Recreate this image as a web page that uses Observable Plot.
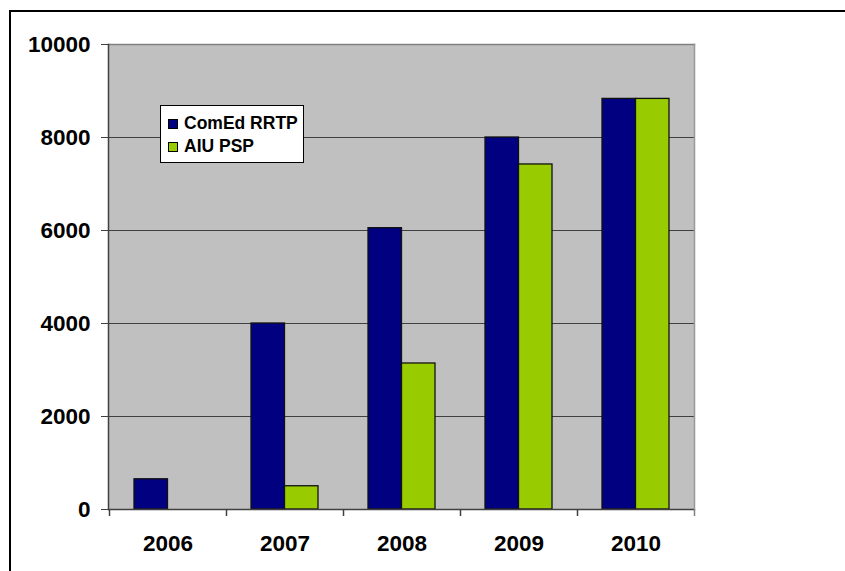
<!DOCTYPE html>
<html>
<head>
<meta charset="utf-8">
<script src="https://cdn.jsdelivr.net/npm/d3@7"></script>
<script src="https://cdn.jsdelivr.net/npm/@observablehq/plot@0.6"></script>
<style>
  html, body { margin: 0; padding: 0; background: #fff; overflow: hidden; }
  #wrap { position: relative; width: 845px; height: 571px; overflow: hidden; font-family: "Liberation Sans", Arial, sans-serif; }
  #outer { position: absolute; left: 0; top: 0; pointer-events: none; }
  #legend { position: absolute; left: 160px; top: 105px; width: 142px; height: 56px; background: #fff; border: 1px solid #000; }
  .row { position: absolute; left: 7px; display: flex; align-items: center; font-weight: bold; font-size: 17.5px; color: #000; white-space: nowrap; }
  .sw { width: 8px; height: 8px; border: 1px solid #000; margin-right: 6px; }
  #chart { position: absolute; left: 0; top: 0; }
</style>
</head>
<body>
<div id="wrap">
  <div id="chart"></div>
  <svg id="outer" width="845" height="571"><path d="M10,571V11H845" fill="none" stroke="#000" stroke-width="2"/></svg>
  <div id="legend"></div>
</div>
<script>
const years = ["2006", "2007", "2008", "2009", "2010"];
const comed = [650, 4000, 6050, 8000, 8830];
const aiu = [null, 500, 3140, 7420, 8830];
const seriesNames = ["ComEd RRTP", "AIU PSP"];
const seriesColors = ["#000080", "#99cc00"];
const yTicks = [0, 2000, 4000, 6000, 8000, 10000];

const comedData = years.map((y, i) => ({year: y, value: comed[i]}));
const aiuData = years.map((y, i) => ({year: y, value: aiu[i]})).filter(d => d.value != null);

const font = {fontFamily: "'Liberation Sans', Arial, sans-serif", fontWeight: "bold", fill: "#000"};

const chart = Plot.plot({
  width: 845,
  height: 571,
  marginLeft: 108,
  marginRight: 151,
  marginTop: 44,
  marginBottom: 62,
  style: {background: "transparent", overflow: "hidden"},
  x: {domain: years, padding: 0, label: null},
  y: {domain: [0, 10000], label: null},
  marks: [
    Plot.frame({fill: "#c0c0c0", stroke: null}),
    Plot.gridY(yTicks, {stroke: "#404040", strokeOpacity: 1}),
    Plot.frame({anchor: "top", stroke: "#808080", strokeWidth: 1.5}),
    Plot.frame({anchor: "right", stroke: "#999999", strokeWidth: 1.5}),
    Plot.barY(comedData, {x: "year", y: "value", fill: seriesColors[0], stroke: "#111", strokeWidth: 1.3, insetLeft: 25, insetRight: 58.5}),
    Plot.barY(aiuData, {x: "year", y: "value", fill: seriesColors[1], stroke: "#111", strokeWidth: 1.3, insetLeft: 58.5, insetRight: 25}),
    Plot.frame({anchor: "left", stroke: "#404040", strokeWidth: 1.5}),
    Plot.ruleY([0], {stroke: "#404040", strokeWidth: 1.5}),
    Plot.ruleX(years, {x: d => d, y1: 0, y2: 0, insetBottom: -7, dx: -58.5, stroke: "#404040", strokeWidth: 1.5}),
    Plot.ruleX(years.slice(-1), {x: d => d, y1: 0, y2: 0, insetBottom: -7, dx: 58.5, stroke: "#808080", strokeWidth: 1.5}),
    Plot.axisY(yTicks, {tickSize: 7, tickPadding: 11, tickFormat: d => String(d), fontSize: 22.5, ...font, stroke: "#404040", label: null}),
    Plot.axisX(years, {tickSize: 0, tickPadding: 26, fontSize: 22.5, ...font, label: null})
  ]
});
document.getElementById("chart").appendChild(chart);

const legend = document.getElementById("legend");
seriesNames.forEach((name, i) => {
  const row = document.createElement("div");
  row.className = "row";
  row.style.top = (i === 0 ? 7 : 30) + "px";
  const sw = document.createElement("div");
  sw.className = "sw";
  sw.style.background = seriesColors[i];
  const t = document.createElement("span");
  t.textContent = name;
  row.appendChild(sw);
  row.appendChild(t);
  legend.appendChild(row);
});
</script>
</body>
</html>
